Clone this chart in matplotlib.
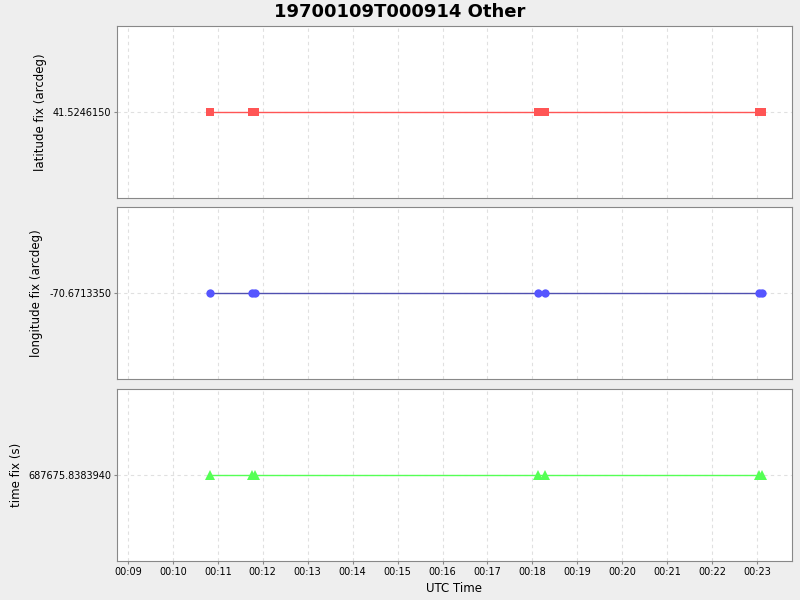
import datetime as dt
import matplotlib
matplotlib.use("Agg")
import matplotlib.pyplot as plt
import matplotlib.dates as mdates

# fix times (UTC)
times = ["00:10:49.8", "00:11:45.0", "00:11:49.7", "00:18:07.0",
         "00:18:17.0", "00:23:03.0", "00:23:06.0"]
latitude = [41.5246150] * 7
longitude = [-70.6713350] * 7
time_fix = [687675.8383940] * 7

base = dt.datetime(1970, 1, 9)
def to_dt(s):
    h, m, sec = s.split(":")
    return base + dt.timedelta(hours=int(h), minutes=int(m), seconds=float(sec))

x = [to_dt(t) for t in times]

# values, label, marker colour, line colour, marker, size, label right edge (px)
panels = [
    (latitude, "latitude fix (arcdeg)", "#ff5555", "#ff5555", "s", 6, 47),
    (longitude, "longitude fix (arcdeg)", "#5555ff", "#5050b0", "o", 6, 43),
    (time_fix, "time fix (s)", "#55ff55", "#55ff55", "^", 7, 23),
]

fig = plt.figure(figsize=(8, 6), dpi=100, facecolor="#eeeeee")
fig.text(0.5, 1 - 12 / 600, "19700109T000914 Other", fontsize=13,
         fontweight="bold", ha="center", va="center")

tops = [26, 207, 389]
h = 172
axes = []
for i, (vals, label, mcol, lcol, mk, ms, lx) in enumerate(panels):
    ax = fig.add_axes([117 / 800, 1 - (tops[i] + h) / 600, 675 / 800, h / 600])
    ax.plot(x, vals, color=lcol, linewidth=1, zorder=2)
    ax.plot(x, vals, linestyle="none", marker=mk, color=mcol, markersize=ms,
            markeredgewidth=0, zorder=3)
    v = vals[0]
    ax.set_yticks([v])
    ax.set_yticklabels([f"{v:.7f}"])
    ax.set_ylim(v - 1, v + 1)
    ax.set_ylabel(label, fontsize=8.5)
    ax.yaxis.set_label_coords((lx - 117) / 675, 0.5)
    ax.set_xlim(to_dt("00:08:45.3"), to_dt("00:23:46.7"))
    ax.xaxis.set_major_locator(mdates.MinuteLocator())
    ax.xaxis.set_major_formatter(mdates.DateFormatter("%H:%M"))
    ax.grid(True, color="#e0e0e0", linestyle=(0, (3, 3)), linewidth=0.8)
    ax.set_axisbelow(True)
    ax.tick_params(labelsize=7, length=2, pad=2, color="#888888")
    for sp in ax.spines.values():
        sp.set_color("#888888")
        sp.set_linewidth(0.8)
    if i < 2:
        ax.tick_params(labelbottom=False, bottom=False)
    axes.append(ax)

axes[-1].set_xlabel("UTC Time", fontsize=8.5)

fig.savefig("out.png", dpi=100, facecolor=fig.get_facecolor())
